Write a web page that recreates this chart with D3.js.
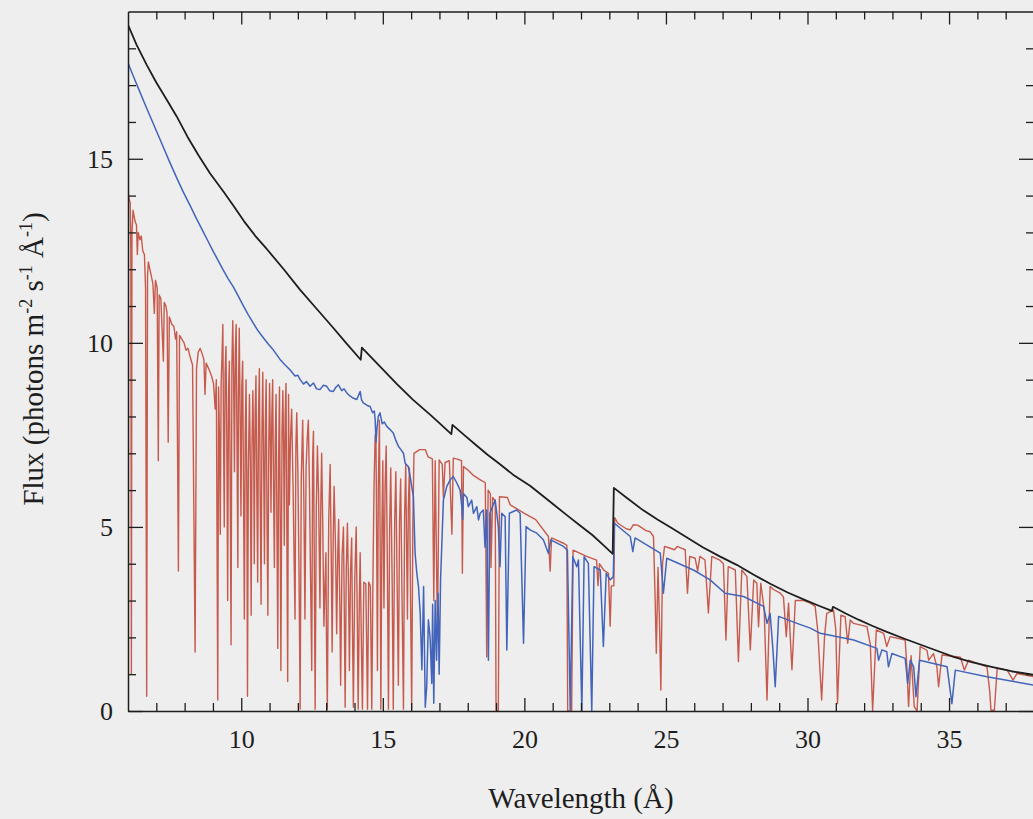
<!DOCTYPE html>
<html>
<head>
<meta charset="utf-8">
<script src="https://cdn.jsdelivr.net/npm/d3@7"></script>
<style>
  html, body { margin: 0; padding: 0; background: #eeeeee; }
  svg { display: block; }
</style>
</head>
<body>
<div id="chart"></div>
<script>
// tick labels
const xMajor = [10, 15, 20, 25, 30, 35];
const yMajor = [0, 5, 10, 15];

// black: unabsorbed continuum [wavelength (A), flux]
const continuum = [
  [6.0, 18.64], [6.3, 18.1], [6.66, 17.55], [7.0, 17.07], [7.4, 16.56], [7.72, 16.15], [8.1, 15.6],
  [8.5, 15.08], [8.9, 14.6], [9.37, 14.11], [9.7, 13.75], [10.1, 13.3], [10.5, 12.9], [10.9, 12.55],
  [11.5, 12.0], [12.08, 11.44], [12.6, 10.98], [13.2, 10.45], [13.7, 10.0], [14.22, 9.54],
  [14.26, 9.87], [14.6, 9.6], [15.0, 9.28], [15.5, 8.88], [16.07, 8.45], [16.67, 8.05], [17.0, 7.82],
  [17.42, 7.52], [17.46, 7.77], [17.9, 7.48], [18.3, 7.22], [18.7, 6.96], [19.14, 6.7], [19.6, 6.42],
  [20.2, 6.12], [20.8, 5.75], [21.5, 5.32], [22.0, 5.02], [22.4, 4.78], [22.8, 4.5], [23.12, 4.27],
  [23.16, 6.06], [23.6, 5.8], [24.2, 5.45], [24.7, 5.2], [25.2, 4.97], [25.7, 4.73], [26.3, 4.45],
  [26.9, 4.2], [27.5, 3.97], [28.1, 3.7], [28.7, 3.45], [29.3, 3.22], [29.9, 3.02], [30.4, 2.86],
  [30.86, 2.72], [30.9, 2.83], [31.35, 2.65], [31.8, 2.48], [32.3, 2.31], [32.8, 2.15], [33.4, 1.97],
  [34.0, 1.8], [34.6, 1.63], [35.16, 1.47], [35.8, 1.33], [36.5, 1.2], [37.2, 1.08], [38.0, 0.98]
];

// blue: absorbed model, high ionisation
const modelBlue = [
  [6.0, 17.6], [6.2, 17.22], [6.4, 16.85], [6.6, 16.48], [6.8, 16.12], [7.0, 15.76], [7.2, 15.4],
  [7.45, 14.95], [7.72, 14.48], [7.95, 14.1], [8.2, 13.72], [8.4, 13.4], [8.6, 13.1], [8.8, 12.8],
  [9.0, 12.5], [9.18, 12.24], [9.36, 11.98], [9.54, 11.74], [9.72, 11.52], [9.9, 11.26], [10.08, 11.0],
  [10.25, 10.76], [10.43, 10.53], [10.6, 10.32], [10.8, 10.12], [10.96, 9.96], [11.13, 9.81],
  [11.37, 9.55], [11.55, 9.4], [11.72, 9.27], [11.9, 9.1], [12.0, 9.12], [12.08, 9.0],
  [12.2, 8.88], [12.3, 8.95], [12.43, 8.82], [12.55, 8.91], [12.66, 8.75], [12.78, 8.73], [12.9, 8.85],
  [13.02, 8.82], [13.12, 8.7], [13.25, 8.68], [13.35, 8.8], [13.43, 8.86], [13.55, 8.7], [13.63, 8.75],
  [13.73, 8.64], [13.85, 8.55], [13.95, 8.5], [14.08, 8.46], [14.2, 8.68], [14.25, 8.45], [14.31, 8.37],
  [14.45, 8.3], [14.55, 8.27], [14.64, 8.1], [14.7, 8.15], [14.73, 7.91], [14.76, 7.3], [14.79, 7.64],
  [14.84, 8.0], [14.9, 8.1], [14.98, 7.8], [15.05, 7.85], [15.14, 7.73], [15.25, 7.65], [15.37, 7.55],
  [15.46, 7.35], [15.55, 7.19], [15.64, 7.1], [15.73, 7.0], [15.79, 6.73], [15.9, 6.64], [15.96, 6.4],
  [16.02, 6.1], [16.08, 5.83], [16.14, 4.29], [16.2, 3.75], [16.26, 3.38], [16.32, 2.66], [16.38, 1.12],
  [16.44, 3.38], [16.5, 0.1], [16.55, 0.67], [16.61, 2.48], [16.67, 2.0], [16.73, 0.75], [16.76, 2.9],
  [16.8, 0.21], [16.85, 3.0], [16.9, 1.38], [16.95, 3.2], [16.99, 1.0], [17.04, 3.56], [17.09, 4.65],
  [17.14, 5.73], [17.26, 6.1], [17.38, 6.28], [17.49, 6.37], [17.61, 6.2], [17.73, 6.0], [17.79, 5.55],
  [17.82, 5.2], [17.85, 5.9], [17.97, 5.8], [18.02, 5.55], [18.14, 5.73], [18.2, 5.37], [18.32, 5.55],
  [18.38, 5.19], [18.44, 5.37], [18.55, 5.46], [18.61, 4.45], [18.67, 5.46], [18.73, 1.38], [18.78, 5.37],
  [18.97, 5.73], [19.08, 5.0], [19.14, 3.92], [19.2, 5.37], [19.32, 5.28], [19.38, 1.66], [19.47, 5.37],
  [19.73, 5.46], [19.85, 5.37], [19.97, 1.84], [20.06, 5.01], [20.2, 4.92], [20.44, 4.83], [20.67, 4.65],
  [20.85, 4.28], [20.93, 4.65], [21.38, 4.47], [21.52, 4.37], [21.62, 0.03], [21.71, 4.19], [21.85, 3.92],
  [21.91, 4.1], [22.03, 0.0], [22.11, 4.19], [22.26, 4.01], [22.38, 0.0], [22.46, 3.92], [22.68, 3.83],
  [22.79, 1.75], [22.89, 3.74], [23.03, 3.56], [23.14, 3.65], [23.18, 5.1], [23.24, 5.06], [23.74, 4.74],
  [23.83, 4.33], [23.91, 4.7], [24.8, 4.29], [24.91, 3.2], [25.03, 4.15], [25.97, 3.83], [26.56, 3.56],
  [27.09, 3.2], [27.74, 3.11], [28.45, 2.84], [28.57, 2.38], [28.68, 2.65], [28.78, 1.66], [28.86, 0.66],
  [28.98, 2.57], [29.63, 2.38], [30.1, 2.25], [30.45, 2.11], [31.63, 1.93], [32.45, 1.7], [32.51, 1.38],
  [32.63, 1.66], [32.8, 1.61], [32.86, 1.2], [32.98, 1.56], [33.45, 1.43], [33.54, 0.75], [33.63, 1.38],
  [33.75, 1.2], [33.83, 0.39], [33.96, 1.38], [34.93, 1.2], [35.1, 0.2], [35.22, 1.11], [36.34, 0.93],
  [38.0, 0.7]
];

// red: absorbed model, low ionisation
const modelRed = [
  [6.0, 14.1], [6.04, 13.9], [6.08, 13.8], [6.1, 12.5], [6.12, 1.0], [6.14, 13.0], [6.18, 13.6],
  [6.25, 13.3], [6.3, 13.2], [6.33, 12.4], [6.36, 13.0], [6.42, 12.8], [6.47, 12.9], [6.52, 12.5],
  [6.58, 12.4], [6.62, 11.5], [6.66, 0.4], [6.69, 11.8], [6.72, 12.2], [6.8, 11.9], [6.88, 11.6],
  [6.93, 10.8], [6.97, 11.7], [7.03, 11.5], [7.07, 6.8], [7.1, 11.3], [7.16, 11.2], [7.25, 9.5],
  [7.28, 11.1], [7.34, 11.0], [7.38, 10.8], [7.42, 7.3], [7.46, 10.7], [7.55, 10.5], [7.62, 10.45],
  [7.68, 10.1], [7.72, 10.3], [7.78, 3.8], [7.82, 10.2], [7.9, 10.1], [7.98, 10.0], [8.05, 9.8],
  [8.12, 9.85], [8.2, 9.6], [8.28, 9.4], [8.37, 1.6], [8.42, 9.3], [8.48, 9.75], [8.55, 9.85],
  [8.62, 9.7], [8.68, 9.55], [8.72, 8.6], [8.76, 9.45], [8.85, 9.3], [8.95, 9.1], [9.02, 8.9],
  [9.08, 8.2], [9.12, 9.0], [9.17, 0.3],
  [9.2, 8.8], [9.23, 7.5], [9.26, 4.8], [9.29, 8.9], [9.32, 9.6], [9.35, 10.5], [9.37, 8.0], [9.4, 5.0],
  [9.43, 9.2], [9.46, 9.9], [9.49, 7.4], [9.52, 3.0], [9.55, 8.6], [9.58, 9.5], [9.61, 6.2], [9.64, 1.8],
  [9.67, 9.4], [9.7, 10.6], [9.73, 9.1], [9.76, 6.5], [9.79, 9.8], [9.82, 10.5], [9.85, 7.2], [9.88, 3.9],
  [9.9, 8.5], [9.93, 10.4], [9.96, 8.0], [9.99, 5.3], [10.02, 8.8], [10.05, 9.5], [10.08, 6.0], [10.11, 2.5],
  [10.14, 7.5], [10.17, 9.0], [10.2, 5.5], [10.22, 0.4], [10.25, 6.5], [10.29, 8.6], [10.32, 6.8],
  [10.35, 2.6], [10.38, 7.2], [10.41, 8.7], [10.44, 7.0], [10.46, 4.0], [10.49, 8.1], [10.52, 9.1],
  [10.55, 6.0], [10.58, 3.5], [10.61, 8.0], [10.64, 9.3], [10.67, 5.8], [10.7, 2.9], [10.73, 7.5],
  [10.76, 9.2], [10.79, 6.9], [10.82, 4.0], [10.85, 7.8], [10.88, 9.0], [10.91, 5.2], [10.94, 2.6],
  [10.97, 7.0], [11.0, 8.9], [11.03, 7.2], [11.05, 5.4], [11.08, 8.0], [11.11, 9.0], [11.14, 6.1],
  [11.17, 3.9], [11.2, 7.3], [11.23, 8.6], [11.26, 5.0], [11.29, 1.7], [11.32, 6.8], [11.35, 8.8],
  [11.38, 4.5], [11.4, 1.1], [11.44, 7.6], [11.47, 8.7], [11.5, 6.9], [11.52, 4.5], [11.55, 8.0],
  [11.58, 8.9], [11.61, 5.0], [11.64, 0.8], [11.67, 8.6], [11.7, 5.6], [11.74, 7.4], [11.78, 8.2],
  [11.83, 6.1], [11.87, 4.0], [11.9, 2.5], [11.93, 7.2], [11.96, 8.1], [12.0, 6.5], [12.04, 3.8],
  [12.08, 0.05], [12.12, 6.3], [12.17, 7.9], [12.21, 5.8], [12.25, 2.5], [12.29, 6.6], [12.33, 7.4],
  [12.37, 7.9], [12.41, 6.0], [12.45, 3.5], [12.49, 1.1], [12.52, 6.8], [12.55, 7.6], [12.58, 4.0],
  [12.61, 0.05], [12.65, 5.5], [12.69, 7.2], [12.73, 5.9], [12.78, 2.8], [12.81, 5.6], [12.84, 7.0],
  [12.88, 5.0], [12.92, 2.3], [12.96, 3.5], [12.99, 4.3], [13.01, 2.0], [13.04, 0.05], [13.09, 5.2],
  [13.14, 6.7], [13.18, 4.1], [13.21, 1.6], [13.25, 4.8], [13.28, 6.1], [13.33, 4.4], [13.37, 2.1],
  [13.41, 4.3], [13.44, 5.2], [13.48, 3.0], [13.51, 0.7], [13.56, 4.2], [13.61, 5.0], [13.64, 2.7],
  [13.67, 0.1], [13.71, 3.9], [13.75, 5.1], [13.79, 3.3], [13.82, 1.1], [13.86, 3.8], [13.9, 4.7],
  [13.93, 2.2], [13.96, 0.1], [14.01, 3.6], [14.06, 5.0], [14.1, 2.4], [14.13, 0.05], [14.17, 3.0],
  [14.2, 4.3], [14.24, 2.0], [14.28, 0.05], [14.33, 3.5], [14.4, 3.45], [14.46, 0.05], [14.5, 3.5],
  [14.56, 3.4], [14.61, 0.05], [14.65, 3.5], [14.69, 6.1], [14.73, 7.5], [14.76, 7.3], [14.79, 3.8],
  [14.81, 1.1], [14.84, 6.0], [14.88, 7.9], [14.91, 4.0], [14.93, 0.05], [14.97, 5.0], [15.0, 6.8],
  [15.02, 4.8], [15.04, 2.8], [15.08, 6.1], [15.12, 7.2], [15.16, 4.0], [15.2, 0.05], [15.24, 4.9],
  [15.28, 6.6], [15.33, 3.5], [15.37, 0.05], [15.42, 5.2], [15.46, 6.5], [15.5, 3.8], [15.55, 0.7],
  [15.59, 5.1], [15.63, 6.3], [15.68, 3.0], [15.73, 0.05], [15.77, 5.3], [15.81, 6.7], [15.84, 4.5],
  [15.87, 2.5], [15.9, 5.5], [15.94, 6.6], [15.98, 3.0], [16.02, 0.05], [16.06, 5.0],
  [16.1, 7.0], [16.3, 7.1], [16.5, 7.1],
  [16.6, 6.9], [16.75, 6.85], [16.8, 3.0], [16.85, 6.8], [16.93, 2.1], [16.99, 6.82], [17.1, 6.7],
  [17.14, 5.8], [17.2, 6.75], [17.35, 6.8], [17.44, 4.8], [17.49, 6.87], [17.6, 6.85], [17.78, 6.8],
  [17.81, 3.74], [17.85, 6.64], [18.0, 6.55], [18.2, 6.4], [18.4, 6.3], [18.62, 6.2], [18.67, 1.47],
  [18.72, 6.0], [18.8, 5.9], [18.82, 3.9], [18.88, 5.8], [18.97, 5.7], [19.0, 0.0], [19.08, 0.0],
  [19.12, 5.82], [19.4, 5.8], [19.5, 5.6], [20.0, 5.37], [20.4, 5.2], [20.85, 4.74], [20.91, 3.8],
  [20.96, 4.7], [21.4, 4.55], [21.5, 4.5], [21.53, 0.0], [21.67, 0.0], [21.72, 4.37], [22.2, 4.2],
  [22.55, 4.1], [22.6, 3.4], [22.65, 4.0], [22.8, 3.83], [22.97, 3.74], [23.03, 2.3], [23.07, 3.4],
  [23.16, 3.4], [23.19, 5.25], [23.3, 5.1], [23.6, 4.95], [23.74, 4.92], [23.85, 5.06], [24.0, 5.05],
  [24.3, 4.9], [24.44, 4.87], [24.56, 4.74], [24.62, 3.0], [24.66, 1.57], [24.72, 3.9], [24.77, 2.5],
  [24.82, 0.57], [24.88, 4.0], [24.95, 4.47], [25.15, 4.42], [25.3, 4.38], [25.4, 4.47], [25.56, 4.42],
  [25.68, 4.38], [25.76, 3.2], [25.84, 4.2], [26.03, 4.15], [26.12, 3.8], [26.2, 4.2], [26.38, 4.1],
  [26.5, 2.66], [26.62, 4.2], [26.9, 4.1], [27.03, 4.0], [27.12, 1.93], [27.2, 3.92], [27.45, 3.83],
  [27.56, 1.34], [27.68, 3.83], [27.86, 3.65], [27.98, 1.66], [28.1, 3.56], [28.21, 3.47], [28.27, 2.29],
  [28.35, 3.47], [28.47, 2.75], [28.57, 0.3], [28.68, 3.38], [28.8, 3.3], [29.04, 3.2], [29.15, 3.1],
  [29.25, 2.02], [29.33, 2.93], [29.45, 1.12], [29.57, 3.0], [29.86, 3.0], [30.1, 2.93], [30.27, 2.84],
  [30.36, 2.2], [30.5, 0.3], [30.6, 2.0], [30.68, 2.65], [30.92, 2.74], [31.0, 2.2], [31.06, 0.2],
  [31.18, 2.6], [31.33, 2.56], [31.42, 1.84], [31.51, 2.47], [31.63, 2.38], [32.1, 2.29], [32.22, 1.8],
  [32.3, 0.0], [32.43, 2.2], [32.69, 2.11], [32.8, 1.75], [32.92, 2.02], [33.45, 1.93], [33.51, 1.2],
  [33.57, 0.12], [33.66, 1.5], [33.77, 0.12], [33.87, 0.0], [33.98, 1.75], [34.22, 1.65], [34.28, 1.38],
  [34.45, 1.56], [34.57, 1.2], [34.63, 0.66], [34.75, 1.52], [35.4, 1.46], [35.54, 1.11], [35.69, 1.38],
  [36.34, 1.2], [36.44, 0.5], [36.48, 0.02], [36.6, 0.02], [36.7, 1.16], [37.05, 1.11], [37.26, 0.84],
  [37.4, 1.02], [38.0, 0.93]
];

const INK = '#1e1e1e';
const FONT = '"Liberation Serif", "Times New Roman", serif';
const width = 1033, height = 819;
const plotLeft = 128, plotRight = 1034, plotTop = 11.5, plotBottom = 711;

const svg = d3.select('#chart').append('svg')
    .attr('width', width).attr('height', height)
    .attr('viewBox', `0 0 ${width} ${height}`);

svg.append('rect').attr('width', width).attr('height', height).attr('fill', '#eeeeee');

const x = d3.scaleLinear().domain([6, 38]).range([plotLeft, plotRight]);
const y = d3.scaleLinear().domain([0, 19]).range([plotBottom, plotTop]);

svg.append('clipPath').attr('id', 'plot')
    .append('rect').attr('x', plotLeft).attr('y', plotTop)
    .attr('width', plotRight - plotLeft).attr('height', plotBottom - plotTop);

const line = d3.line().x((d) => x(d[0])).y((d) => y(d[1]));

const plot = svg.append('g').attr('clip-path', 'url(#plot)');
plot.append('path').datum(modelRed).attr('d', line)
    .attr('fill', 'none').attr('stroke', '#c65a4c').attr('stroke-width', 1.4)
    .attr('stroke-linejoin', 'round');
plot.append('path').datum(modelBlue).attr('d', line)
    .attr('fill', 'none').attr('stroke', '#4264ba').attr('stroke-width', 1.5)
    .attr('stroke-linejoin', 'round');
plot.append('path').datum(continuum).attr('d', line)
    .attr('fill', 'none').attr('stroke', INK).attr('stroke-width', 1.8)
    .attr('stroke-linejoin', 'round');

// minor tick positions
const xMinor = d3.range(7, 38).filter((v) => v % 5 !== 0);
const yMinor = d3.range(1, 19).filter((v) => v % 5 !== 0);

function styleAxis(sel) {
    sel.attr('font-family', FONT).attr('font-size', 26);
    sel.select('.domain').attr('stroke', INK).attr('stroke-width', 1.5);
    sel.selectAll('.tick line').attr('stroke', INK).attr('stroke-width', 1.3);
    sel.selectAll('.tick text').attr('fill', INK);
}
function bare(sel) {
    sel.select('.domain').remove();
    sel.selectAll('.tick line').attr('stroke', INK).attr('stroke-width', 1.3);
}

// bottom
svg.append('g').attr('transform', `translate(0,${plotBottom})`)
    .call(d3.axisBottom(x).tickValues(xMajor).tickSizeInner(-13).tickSizeOuter(0).tickPadding(19))
    .call(styleAxis);
svg.append('g').attr('transform', `translate(0,${plotBottom})`)
    .call(d3.axisBottom(x).tickValues(xMinor).tickSize(-8).tickFormat(''))
    .call(bare);
// top
svg.append('g').attr('transform', `translate(0,${plotTop})`)
    .call(d3.axisTop(x).tickValues(xMajor).tickSizeInner(-13).tickSizeOuter(0).tickFormat(''))
    .call(styleAxis);
svg.append('g').attr('transform', `translate(0,${plotTop})`)
    .call(d3.axisTop(x).tickValues(xMinor).tickSize(-8).tickFormat(''))
    .call(bare);
// left
svg.append('g').attr('transform', `translate(${plotLeft},0)`)
    .call(d3.axisLeft(y).tickValues(yMajor).tickSizeInner(-15).tickSizeOuter(0).tickPadding(15))
    .call(styleAxis);
svg.append('g').attr('transform', `translate(${plotLeft},0)`)
    .call(d3.axisLeft(y).tickValues(yMinor).tickSize(-8).tickFormat(''))
    .call(bare);
// right
svg.append('g').attr('transform', `translate(${plotRight},0)`)
    .call(d3.axisRight(y).tickValues(yMajor).tickSizeInner(-15).tickSizeOuter(0).tickFormat(''))
    .call(styleAxis);
svg.append('g').attr('transform', `translate(${plotRight},0)`)
    .call(d3.axisRight(y).tickValues(yMinor).tickSize(-8).tickFormat(''))
    .call(bare);

// axis titles
svg.append('text')
    .attr('x', (plotLeft + plotRight) / 2).attr('y', 808)
    .attr('text-anchor', 'middle')
    .attr('font-family', FONT).attr('font-size', 29).attr('fill', INK)
    .text('Wavelength (Å)');

const yTitle = svg.append('text')
    .attr('transform', 'translate(43,359) rotate(-90)')
    .attr('text-anchor', 'middle')
    .attr('font-family', FONT).attr('font-size', 29).attr('fill', INK);
const parts = [
    ['Flux (photons m', 0], ['-2', 1], [' s', 0], ['-1', 1], [' Å', 0], ['-1', 1], [')', 0]
];
let raised = false;
parts.forEach(([t, sup]) => {
    const ts = yTitle.append('tspan').text(t);
    if (sup && !raised) { ts.attr('dy', -11).attr('font-size', 18); raised = true; }
    else if (sup) { ts.attr('font-size', 18); }
    else if (raised) { ts.attr('dy', 11); raised = false; }
});
</script>
</body>
</html>
